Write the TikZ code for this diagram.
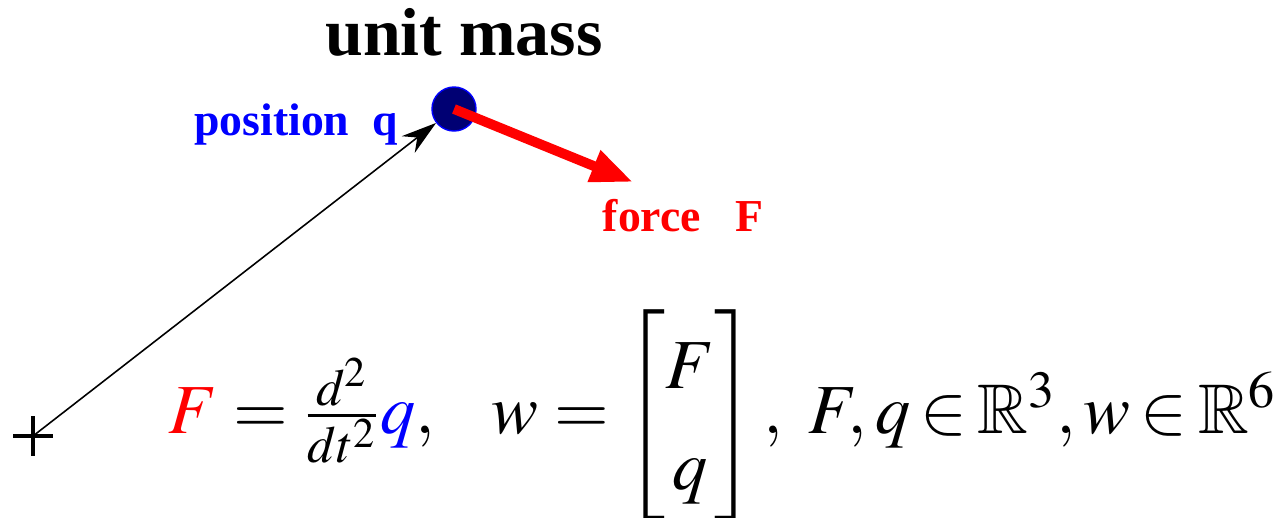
\documentclass[tikz,border=0pt]{standalone}
\usepackage{mathptmx}
\usepackage{amssymb}
\usepackage{fontspec}
\setmainfont{Liberation Serif}
\usetikzlibrary{arrows.meta}
\definecolor{massblue}{rgb}{0,0,0.45}
\newcommand{\elemof}{\mathrel{\hspace{-1.5pt}\in\hspace{-1.5pt}}}
\begin{document}
\begin{tikzpicture}[x=0.01cm, y=-0.01cm,
    lbl/.style={font=\bfseries\fontsize{13}{15}\selectfont, anchor=base, inner sep=0pt},
    mass/.style={circle, draw=blue, fill=massblue, minimum size=0.44cm, inner sep=0pt},
    posarrow/.style={line width=0.45pt, -{Stealth[length=10pt, width=6pt]}},
    forcearrow/.style={red, line width=2.8pt, -{Triangle[length=12pt, width=9pt]}}]
    \useasboundingbox (0,0) rectangle (1282,517);
    \node[mass] (M) at (454,109) {};
    \coordinate (O) at (33,436);
    \coordinate (Ftip) at (633,182);

    % labels
    \node[lbl, font=\bfseries\fontsize{19.3}{22}\selectfont] (title) at (464,55) {unit mass};
    \node[lbl, blue] (qlabel) at (296,135) {position\ \ q};
    \node[lbl, red] (flabel) at (683,231) {force\ \ \ F};

    % origin and vectors
    \draw[line width=1.1pt] (O) +(-20,0) -- +(20,0) (O) +(0,-20) -- +(0,20);
    \draw[posarrow] (O) -- (M);
    \draw[forcearrow] (M.center) -- (Ftip);

    \node[anchor=base west, inner sep=0pt, font=\fontsize{20}{24}\selectfont] (eq) at (168,433)
        {$\color{red}F\color{black} = \frac{d^2}{dt^2}{\color{blue}q},\hspace{14pt} w = \left[\raisebox{12.8pt}{$\begin{array}[t]{@{}c@{}} F\\[5pt] q \end{array}$}\rule[-24pt]{0pt}{58pt}\right],\ F,q\elemof\mathbb{R}^3, w\elemof\mathbb{R}^6$};
\end{tikzpicture}
\end{document}
